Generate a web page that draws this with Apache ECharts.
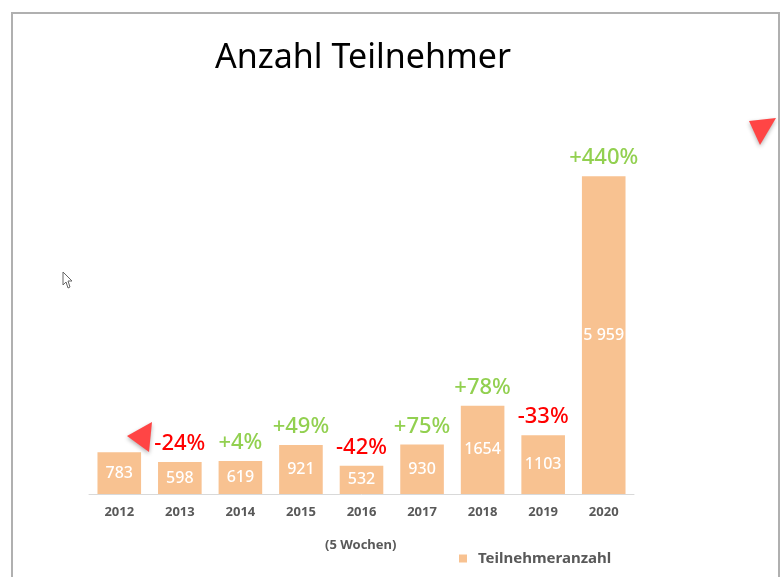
<!DOCTYPE html>
<html>
<head>
<meta charset="utf-8">
<script src="https://cdn.jsdelivr.net/npm/echarts@6/dist/echarts.min.js"></script>
<style>html,body{margin:0;padding:0;background:#fff}#c{width:784px;height:577px}</style>
</head>
<body>
<div id="c"></div>
<script>
const categories = ['2012','2013','2014','2015','2016','2017','2018','2019','2020'];
const teilnehmer = [783, 598, 619, 921, 532, 930, 1654, 1103, 5959];
const valueLabels = ['783','598','619','921','532','930','1654','1103','5 959'];
const changeLabels = ['', '-24%', '+4%', '+49%', '-42%', '+75%', '+78%', '-33%', '+440%'];

const chart = echarts.init(document.getElementById('c'), null, {renderer: 'canvas'});
const FONT = '"Noto Sans", "Open Sans", sans-serif';
const option = {
  backgroundColor: '#fff',
  animation: false,
  title: {
    text: 'Anzahl Teilnehmer',
    left: 358, top: 36, textAlign: 'center',
    textStyle: {fontFamily: FONT, fontSize: 34, fontWeight: 'normal', color: '#000'}
  },
  legend: {
    data: ['Teilnehmeranzahl'],
    left: 454, top: 546,
    itemWidth: 8, itemHeight: 8, itemGap: 10,
    icon: 'rect',
    textStyle: {fontFamily: FONT, fontSize: 15, fontWeight: 'bold', color: '#595959', padding: [0,0,0,6]}
  },
  grid: {left: 89, right: 150, top: 174, bottom: 83, containLabel: false},
  xAxis: {
    type: 'category', data: categories,
    axisLine: {lineStyle: {color: '#d9d9d9', width: 1}},
    axisTick: {show: false},
    axisLabel: {fontFamily: FONT, fontSize: 13, fontWeight: 'bold', color: '#595959', margin: 12}
  },
  yAxis: {type: 'value', min: 0, max: 6000, show: false, splitLine: {show: false}},
  series: [
    {
      name: 'Teilnehmeranzahl', type: 'bar', data: teilnehmer,
      barWidth: '72%',
      itemStyle: {color: '#F8C291'},
      label: {
        show: true, position: 'inside',
        formatter: p => valueLabels[p.dataIndex],
        fontFamily: FONT, fontSize: 16, fontWeight: 500, color: '#fff'
      }
    },
    {
      name: 'change', type: 'bar', data: teilnehmer,
      barWidth: '72%', barGap: '-100%',
      itemStyle: {color: 'rgba(0,0,0,0)'},
      silent: true,
      label: {
        show: true, position: 'top', distance: 7,
        formatter: p => changeLabels[p.dataIndex] ? ('{' + (changeLabels[p.dataIndex][0] === '+' ? 'g' : 'r') + '|' + changeLabels[p.dataIndex] + '}') : '',
        rich: {
          g: {fontFamily: FONT, fontSize: 22, fontWeight: 500, color: '#92D050'},
          r: {fontFamily: FONT, fontSize: 22, fontWeight: 500, color: '#FF0000'}
        }
      }
    }
  ],
  graphic: [
    {type: 'rect', shape: {x: 12, y: 13, width: 767, height: 580}, style: {fill: 'none', stroke: '#b0b0b0', lineWidth: 2}, z: 100},
    {type: 'text', left: 325, top: 539, style: {text: '(5 Wochen)', font: 'bold 13px "Noto Sans", sans-serif', fill: '#595959'}},
    {type: 'polygon', shape: {points: [[749,121],[776,118],[760,145]]}, style: {fill: '#FF4545', shadowBlur: 4, shadowColor: 'rgba(0,0,0,0.3)', shadowOffsetY: 2}, z: 101},
    {type: 'polygon', shape: {points: [[152,422],[127,436],[149,452]]}, style: {fill: '#FF4545', shadowBlur: 4, shadowColor: 'rgba(0,0,0,0.3)', shadowOffsetY: 2}, z: 101},
    {type: 'polygon', shape: {points: [[63,272],[63,285],[66,282],[68,288],[70,287],[68,281],[72,281]]}, style: {fill: '#fff', stroke: '#666', lineWidth: 1}, z: 101}
  ]
};
chart.setOption(option);
</script>
</body>
</html>
